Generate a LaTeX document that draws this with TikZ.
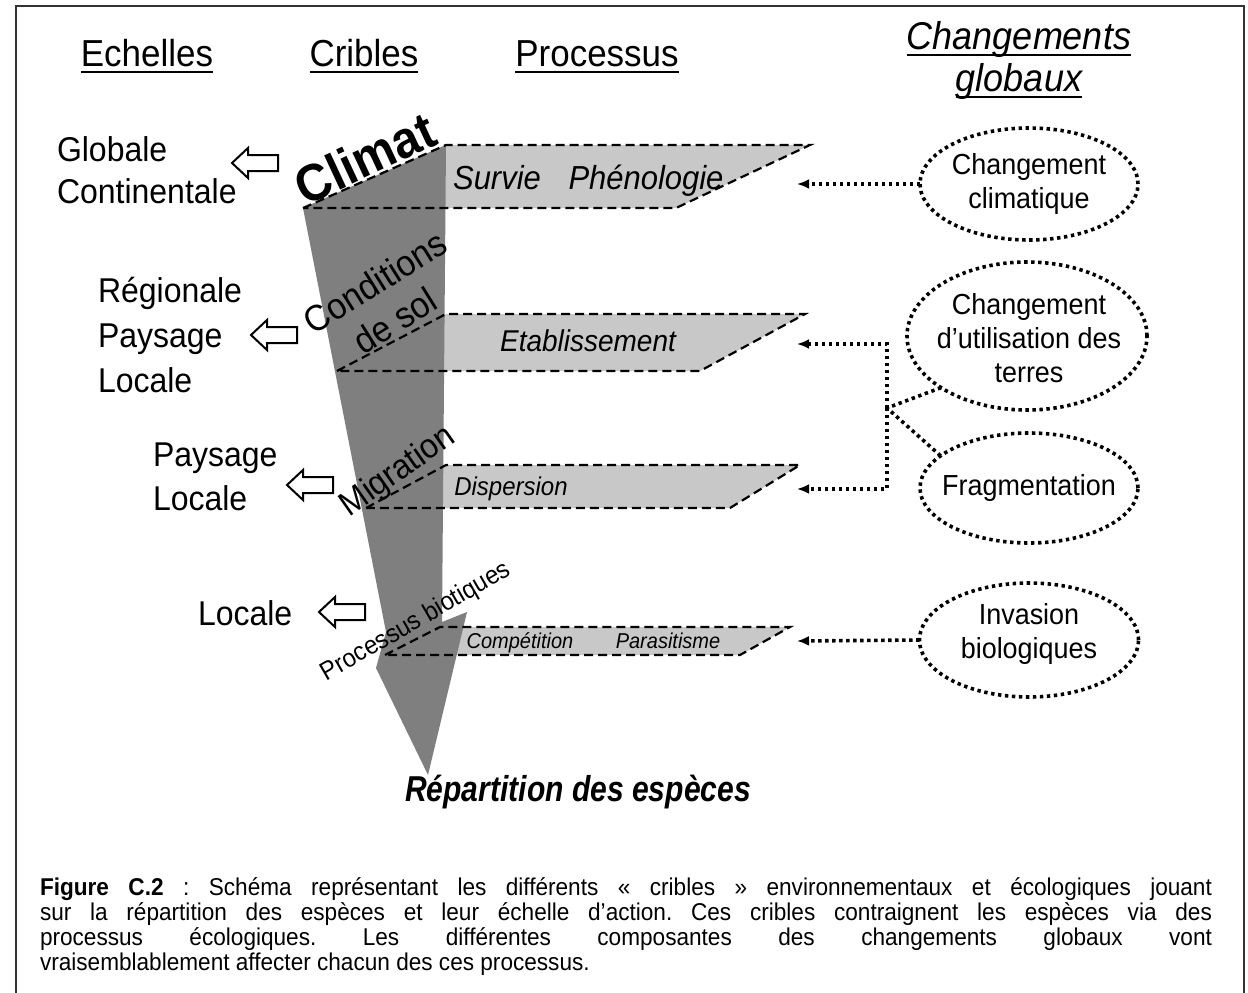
\documentclass[tikz,border=0pt]{standalone}
\usepackage{fontspec}
\setmainfont{Liberation Sans}[FakeStretch=0.93]
\usetikzlibrary{arrows.meta,shapes.geometric}
\newcommand\fsz[1]{\fontsize{#1}{#1}\selectfont}
\definecolor{darkg}{HTML}{7F7F7F}
\definecolor{lightg}{HTML}{C8C8C8}
\definecolor{framec}{HTML}{333333}
\begin{document}
\begin{tikzpicture}[x=1pt,y=-1pt,
  txt/.style={inner sep=0pt, outer sep=0pt},
  hdr/.style={txt, font=\fsz{37.6}, anchor=base},
  ghdr/.style={txt, font=\itshape\fsz{38.7}, anchor=base},
  uline/.style={line width=2.6pt},
  scl/.style={txt, font=\fsz{34.4}, anchor=base west},
  proc/.style={txt, anchor=base},
  crible/.style={txt},
  dashbox/.style={draw=black, line width=2.2pt, dash pattern=on 9pt off 5pt},
  dotline/.style={line width=3.6pt, dash pattern=on 3.4pt off 3.6pt},
  ell/.style={ellipse, draw, dotline, inner sep=0pt, outer sep=0pt},
  etxt/.style={txt, align=center, font=\fontsize{29}{34}\selectfont},
  dotarrow/.style={dotline, -{Latex[length=12pt,width=10pt]}},
  hollow/.style={draw, line width=2pt, fill=white, line join=miter},
  hollowarrow/.pic={\draw[hollow] (0,0) -- (16,-15) -- (16,-8) -- (46,-8) -- (46,8) -- (16,8) -- (16,15) -- cycle;},
]
\useasboundingbox (0,0) rectangle (1248,993);
\fill[white] (0,0) rectangle (1248,993);
% frame
\draw[line width=2pt, framec] (16,993) -- (16,6) -- (1244,6) -- (1244,993);

% headers
\node[hdr] (hE) at (147,66) {Echelles};
\node[hdr] (hC) at (364,66) {Cribles};
\node[hdr] (hP) at (597,66) {Processus};
\node[ghdr] (hG1) at (1019,49) {Changements};
\node[ghdr] (hG2) at (1019,91) {globaux};
\foreach \n in {hE,hC,hP,hG1,hG2}
  \draw[uline] ([yshift=-6pt]\n.base west) -- ([yshift=-6pt]\n.base east);

% light process bands
\fill[lightg] (303,208) -- (446,145) -- (810,145) -- (676,208) -- cycle;
\fill[lightg] (337,371) -- (446,314) -- (805,314) -- (700,371) -- cycle;
\fill[lightg] (366,508) -- (446,465) -- (800,465) -- (730,508) -- cycle;
\fill[lightg] (385,655) -- (440,627) -- (790,627) -- (740,655) -- cycle;

% funnel
\fill[darkg] (303,208) -- (446,145) -- (442,622) -- (467,612) -- (428,775)
   -- (376,668) -- (386,632) -- cycle;

% dashed outlines
\draw[dashbox] (303,208) -- (446,145) -- (810,145) -- (676,208) -- cycle;
\draw[dashbox] (337,371) -- (446,314) -- (805,314) -- (700,371) -- cycle;
\draw[dashbox] (366,508) -- (446,465) -- (800,465) -- (730,508) -- cycle;
\draw[dashbox] (385,655) -- (440,627) -- (790,627) -- (740,655) -- cycle;

% sieves
\node[crible, rotate=25, font=\bfseries\fsz{52}] (cClim) at (365,158) {Climat};
\node[crible, rotate=32, font=\fsz{36.5}] (cCond) at (375,282) {Conditions};
\node[crible, rotate=32, font=\fsz{36.5}] (cSol) at (395,320) {de sol};
\node[crible, rotate=35, font=\fsz{34.4}] (cMig) at (398,472) {Migration};
\node[crible, rotate=30, font=\fsz{25.8}] (cBio) at (416,622) {Processus biotiques};

% processes
\node[proc, font=\itshape\fsz{33.3}] (pSur) at (497,189) {Survie};
\node[proc, font=\itshape\fsz{33.3}] (pPhe) at (646,189) {Phénologie};
\node[proc, font=\itshape\fsz{30.1}] (pEta) at (588,351) {Etablissement};
\node[proc, font=\itshape\fsz{25.8}] (pDis) at (511,495) {Dispersion};
\node[proc, font=\itshape\fsz{21.5}] (pCom) at (520,648) {Compétition};
\node[proc, font=\itshape\fsz{21.5}] (pPar) at (668,648) {Parasitisme};

\node[txt, anchor=base, font=\bfseries\itshape\fsz{36}] (rep) at (578,801)
  {\scalebox{0.898}[1]{Répartition des espèces}};

% scales
\node[scl] (s1a) at (57,161) {Globale};
\node[scl] (s1b) at (57,203) {Continentale};
\node[scl] (s2a) at (98,302) {Régionale};
\node[scl] (s2b) at (98,347) {Paysage};
\node[scl] (s2c) at (98,392) {Locale};
\node[scl] (s3a) at (153,466) {Paysage};
\node[scl] (s3b) at (153,510) {Locale};
\node[scl] (s4a) at (198,625) {Locale};

\pic (ha1) at (232,163) {hollowarrow};
\pic (ha2) at (251,335) {hollowarrow};
\pic (ha3) at (287,485) {hollowarrow};
\pic (ha4) at (319,612) {hollowarrow};

% global changes
\node[ell, minimum width=218pt, minimum height=112pt] (e1) at (1029,184) {};
\node[ell, minimum width=240pt, minimum height=148pt] (e2) at (1027,336) {};
\node[ell, minimum width=218pt, minimum height=110pt] (e3) at (1029,488) {};
\node[ell, minimum width=219pt, minimum height=114pt] (e4) at (1029,640) {};
\node[etxt] (t1) at (1029,184) {Changement\\climatique};
\node[etxt] (t2) at (1029,338) {Changement\\d’utilisation des\\terres};
\node[etxt] (t3) at (1029,488) {Fragmentation};
\node[etxt] (t4) at (1029,634) {Invasion\\biologiques};

\coordinate (a1) at (797,184);
\coordinate (a2) at (797,344);
\coordinate (a3) at (797,489);
\coordinate (a4) at (797,641);
\coordinate (j) at (887,408);
\draw[dotarrow] (e1.west) -- (a1);
\draw[dotarrow] (e4.west) -- (a4);
\draw[dotarrow] (j) |- (a2);
\draw[dotarrow] (j) |- (a3);
\draw[dotline] (e2.211) -- (j);
\draw[dotline] (e3.160) -- (j);

% caption
\node[txt, anchor=north west, text width=1172pt, align=justify,
      font=\fontsize{24.3}{24.7}\selectfont] (cap) at (40,878)
 {\noindent\frenchspacing\textbf{Figure C.2} : Schéma représentant les différents « cribles » environnementaux et écologiques jouant\linebreak
 sur la répartition des espèces et leur échelle d’action. Ces cribles contraignent les espèces via des\linebreak
 processus écologiques. Les différentes composantes des changements globaux vont\linebreak
 vraisemblablement affecter chacun des ces processus.};
\end{tikzpicture}
\end{document}
